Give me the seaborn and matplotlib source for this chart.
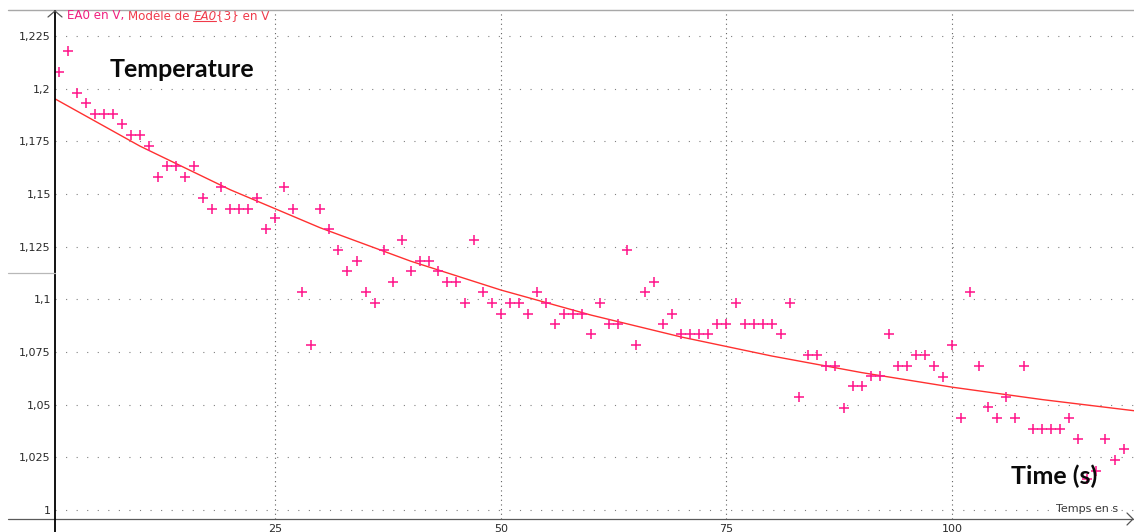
import numpy as np
import pandas as pd
import seaborn as sns
import matplotlib
matplotlib.use("Agg")
import matplotlib.pyplot as plt
from matplotlib.lines import Line2D

# ---------------- data ----------------
time_s = list(range(1, 120))
ea0_v = [
    1.2079, 1.2180, 1.1980, 1.1930, 1.1878, 1.1878, 1.1878, 1.1830, 1.1780, 1.1780,
    1.1729, 1.1580, 1.1631, 1.1631, 1.1580, 1.1631, 1.1481, 1.1430, 1.1532, 1.1430,
    1.1430, 1.1430, 1.1481, 1.1332, 1.1384, 1.1532, 1.1430, 1.1033, 1.0782, 1.1430,
    1.1332, 1.1234, 1.1133, 1.1182, 1.1033, 1.0982, 1.1234, 1.1082, 1.1281, 1.1133,
    1.1182, 1.1182, 1.1133, 1.1082, 1.1082, 1.0982, 1.1281, 1.1033, 1.0984, 1.0932,
    1.0984, 1.0984, 1.0932, 1.1036, 1.0984, 1.0884, 1.0932, 1.0932, 1.0932, 1.0834,
    1.0984, 1.0884, 1.0884, 1.1234, 1.0783, 1.1036, 1.1082, 1.0884, 1.0932, 1.0834,
    1.0834, 1.0834, 1.0834, 1.0884, 1.0884, 1.0984, 1.0884, 1.0884, 1.0884, 1.0884,
    1.0834, 1.0984, 1.0535, 1.0736, 1.0736, 1.0685, 1.0685, 1.0484, 1.0587, 1.0587,
    1.0635, 1.0635, 1.0834, 1.0685, 1.0685, 1.0736, 1.0736, 1.0683, 1.0633, 1.0782,
    1.0437, 1.1033, 1.0683, 1.0487, 1.0437, 1.0536, 1.0437, 1.0683, 1.0386, 1.0386,
    1.0386, 1.0386, 1.0437, 1.0335, 1.0147, 1.0186, 1.0335, 1.0237, 1.0288,
]

model_t = [0.6, 10, 20, 30, 40, 50, 60, 70, 80, 90, 100, 110, 120.2]
model_v = [1.1951, 1.1727, 1.1520, 1.1339, 1.1181, 1.1044, 1.0925, 1.0821,
           1.0731, 1.0652, 1.0583, 1.0524, 1.0471]

y_ticks = [1.0, 1.025, 1.05, 1.075, 1.1, 1.125, 1.15, 1.175, 1.2, 1.225]
y_tick_labels = ["1", "1,025", "1,05", "1,075", "1,1", "1,125", "1,15", "1,175", "1,2", "1,225"]
x_ticks = [25, 50, 75, 100]
x_tick_labels = ["25", "50", "75", "100"]

# ---------------- figure ----------------
sns.set_theme(style="white")
plt.rcParams["font.family"] = ["DejaVu Sans"]

W, H = 1134, 532
fig = plt.figure(figsize=(W / 100, H / 100), dpi=100)
fig.patch.set_facecolor("white")


def fx(px):
    return px / W


def fy(py):
    return 1 - py / H


ax = fig.add_axes([fx(55), fy(519), fx(W - 55), (519 - 10) / H])
ax.set_facecolor("white")

df = pd.DataFrame({"t": time_s, "v": ea0_v})
mdf = pd.DataFrame({"t": model_t, "v": model_v})

ax.set_xlim(0.587, 120.16)
ax.set_ylim(0.99573, 1.2373)

# grid
for yv in y_ticks:
    ax.axhline(yv, color="#808080", lw=0.8, ls=(0, (1, 8.5)), zorder=0)
for xv in x_ticks:
    ax.axvline(xv, color="#606060", lw=0.8, ls=(0, (1, 3.2)), zorder=0)

sns.lineplot(data=mdf, x="t", y="v", ax=ax, color="#ff3030", lw=1.0,
             sort=True, zorder=2)
sns.scatterplot(data=df, x="t", y="v", ax=ax, marker="+", s=48,
                color="#ff1a8c", linewidth=1.15, zorder=3)

ax.set_xlabel("")
ax.set_ylabel("")
ax.set_yticks(y_ticks)
ax.set_yticklabels(y_tick_labels)
ax.set_xticks(x_ticks)
ax.set_xticklabels(x_tick_labels)
ax.tick_params(axis="both", length=0, labelsize=8, labelcolor="#2a2a2a")
ax.tick_params(axis="y", pad=3)
ax.tick_params(axis="x", pad=3.5)
for s in ax.spines.values():
    s.set_visible(False)

# axis lines drawn in figure coordinates
lines = [
    ((8, W), (10, 10), "#a8a8a8", 1.0),          # top border
    ((8, W), (519, 519), "#5a5a5a", 0.9),        # x axis
    ((55, 55), (11, 532), "#000000", 1.3),       # y axis
    ((8, 55), (273, 273), "#b8b8b8", 0.9),       # small marker on left
    ((48, 55, 62), (17, 11, 17), "#555555", 0.9),  # y arrow
    ((1127, 1133, 1127), (513, 519, 525), "#555555", 0.9),  # x arrow
]
for xs, ys, c, lw in lines:
    fig.add_artist(Line2D([fx(v) for v in xs], [fy(v) for v in ys],
                          color=c, lw=lw, transform=fig.transFigure))

# header label
hfs = 8.6
t1 = fig.text(fx(67), fy(16), "EA0 en V, ", color="#f0207f", fontsize=hfs,
              va="center", ha="left")
t2 = ax.annotate("Modèle de ", xy=(1, 0), xycoords=t1, va="bottom", ha="left",
                 color="#f03a4a", fontsize=hfs, annotation_clip=False)
t3 = ax.annotate("EA0", xy=(1, 0), xycoords=t2, va="bottom", ha="left",
                 color="#f03a4a", fontsize=hfs, style="italic",
                 annotation_clip=False)
t4 = ax.annotate("{3} en V", xy=(1, 0), xycoords=t3, va="bottom", ha="left",
                 color="#f03a4a", fontsize=hfs, annotation_clip=False)

# axis name
fig.text(fx(1118), fy(509), "Temps en s", color="#3a3a3a", fontsize=8,
         ha="right", va="center")

# big annotations
fig.text(fx(110), fy(77), "Temperature", family=["Lato", "DejaVu Sans"],
         weight="bold", fontsize=18, color="#0a0a0a", ha="left",
         va="baseline", zorder=10)
fig.text(fx(1011), fy(484), "Time (s)", family=["Lato", "DejaVu Sans"],
         weight="bold", fontsize=18, color="#0a0a0a", ha="left",
         va="baseline", zorder=10)

# underline italic EA0
fig.canvas.draw()
bb = t3.get_window_extent()
ux0, ux1 = bb.x0 / W, bb.x1 / W
uy = (bb.y0 + 2) / H
fig.add_artist(Line2D([ux0, ux1], [uy, uy], color="#f03a4a", lw=0.8,
                      transform=fig.transFigure))

fig.savefig("out.png", dpi=100, facecolor="white")
